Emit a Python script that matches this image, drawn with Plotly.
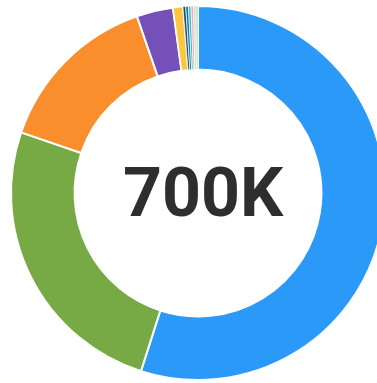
import plotly.graph_objects as go

# slices, clockwise from 12 o'clock
labels = ["A", "B", "C", "D", "E", "F", "G", "H", "I", "J", "K"]
values = [384000, 177000, 101000, 22000, 6000, 1700, 1600, 1500, 1500, 1400, 1300]

colors = ["#2b99f8", "#77aa44", "#fb8e2c", "#7450b8", "#fdc63f",
          "#1b4f8a", "#137a8c", "#38b8c8", "#f2a7c8", "#c7e39b", "#a8d8f0"]
# thinner borders on the tiny slices so their colour still shows
border_widths = [2, 2, 2, 2, 1.5, 0.7, 0.7, 0.7, 0.7, 0.7, 0.7]
center_label = "700K"

fig = go.Figure(
    go.Pie(
        labels=labels,
        values=values,
        hole=0.66,
        sort=False,
        direction="clockwise",
        rotation=0,
        textinfo="none",
        hoverinfo="label+value",
        marker=dict(colors=colors, line=dict(color="white", width=border_widths)),
        showlegend=False,
    )
)

fig.add_annotation(
    text=center_label,
    x=0.5, y=0.5, xref="paper", yref="paper",
    xshift=5,
    showarrow=False,
    font=dict(family="Roboto", size=68, color="#2d2e30", weight="bold"),
)

fig.update_layout(
    width=396,
    height=383,
    margin=dict(l=11, r=11, t=6, b=3),
    paper_bgcolor="white",
    plot_bgcolor="white",
)

fig.write_html(
    "out.html",
    config={"displayModeBar": False},
    post_script="document.body.style.margin='0';document.body.style.overflow='hidden';",
)
